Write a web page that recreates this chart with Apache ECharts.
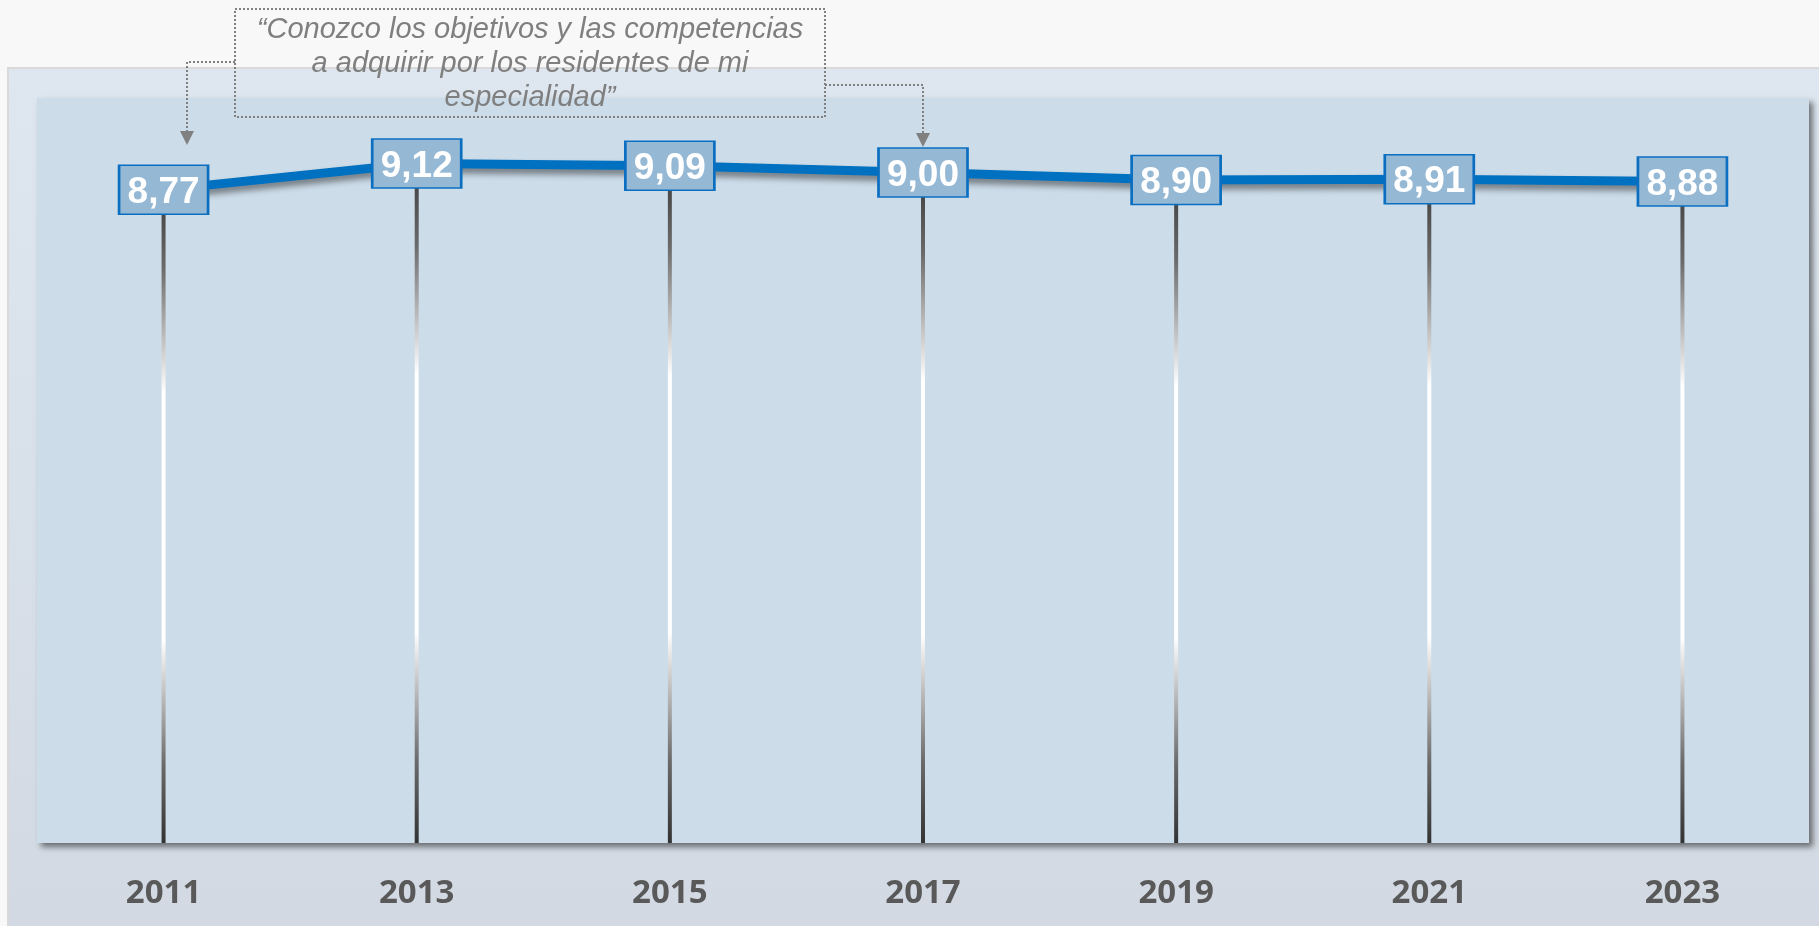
<!DOCTYPE html>
<html lang="es">
<head>
  <meta charset="UTF-8">
  <title>chart</title>
  <style>
    html, body { margin: 0; padding: 0; background: #f8f8f8; }
  </style>
</head>
<body>
<div id="main" style="width: 1819px;height:926px;"></div>
<script src="https://cdn.jsdelivr.net/npm/echarts@6/dist/echarts.min.js"></script>
<script>
// datos
var years = ['2011', '2013', '2015', '2017', '2019', '2021', '2023'];
var scores = [8.77, 9.12, 9.09, 9.00, 8.90, 8.91, 8.88];
var noteLines = [
  '\u201cConozco los objetivos y las competencias',
  'a adquirir por los residentes de mi',
  'especialidad\u201d'
];

var myChart = echarts.init(document.getElementById('main'));

var dotted = { stroke: '#808080', lineWidth: 2, lineDash: [2, 2], fill: null };

myChart.setOption({
  backgroundColor: '#f8f8f8',
  animation: false,
  grid: {
    left: 37, right: 10, top: 98, bottom: 83,
    show: true,
    backgroundColor: '#ccdce9',
    borderWidth: 0,
    shadowColor: 'rgba(0,0,0,0.5)',
    shadowBlur: 6,
    shadowOffsetX: 4,
    shadowOffsetY: 4
  },
  graphic: [
    {
      type: 'rect', z: -10, silent: true,
      shape: { x: 8, y: 68, width: 1820, height: 870 },
      style: {
        fill: new echarts.graphic.LinearGradient(0, 0, 0, 1, [
          { offset: 0, color: '#dee7f0' },
          { offset: 1, color: '#d2d9e2' }
        ]),
        stroke: '#d9d9d9', lineWidth: 2
      }
    },
    {
      type: 'rect', z: 100, silent: true,
      shape: { x: 235, y: 9, width: 590, height: 108 },
      style: dotted
    },
    {
      type: 'text', z: 100, silent: true,
      x: 530, y: 64,
      style: {
        text: noteLines.join('\n'),
        fill: '#7f7f7f',
        font: 'italic 29px "Liberation Sans", Arial, sans-serif',
        lineHeight: 34,
        align: 'center',
        verticalAlign: 'middle'
      }
    },
    {
      type: 'polyline', z: 100, silent: true,
      shape: { points: [[235, 62], [187, 62], [187, 133]] },
      style: dotted
    },
    {
      type: 'polygon', z: 100, silent: true,
      shape: { points: [[180, 131], [194, 131], [187, 145]] },
      style: { fill: '#808080' }
    },
    {
      type: 'polyline', z: 100, silent: true,
      shape: { points: [[825, 85], [923, 85], [923, 134]] },
      style: dotted
    },
    {
      type: 'polygon', z: 100, silent: true,
      shape: { points: [[916, 133], [930, 133], [923, 147]] },
      style: { fill: '#808080' }
    }
  ],
  xAxis: {
    type: 'category',
    data: years,
    boundaryGap: true,
    axisLine: { show: false },
    axisTick: { show: false },
    splitLine: { show: false },
    axisLabel: {
      margin: 34,
      color: '#595959',
      fontFamily: '"Open Sans", sans-serif',
      fontWeight: 'bold',
      fontSize: 33
    }
  },
  yAxis: {
    type: 'value',
    min: 0,
    max: 10,
    show: false
  },
  series: [
    {
      type: 'bar',
      data: scores,
      barWidth: 4,
      z: 1,
      itemStyle: {
        color: new echarts.graphic.LinearGradient(0, 0, 0, 1, [
          { offset: 0, color: '#3c3c3c' },
          { offset: 0.12, color: '#6a6a6a' },
          { offset: 0.31, color: '#ffffff' },
          { offset: 0.69, color: '#ffffff' },
          { offset: 0.88, color: '#6a6a6a' },
          { offset: 1, color: '#333333' }
        ])
      }
    },
    {
      type: 'line',
      data: scores,
      z: 3,
      symbol: 'none',
      lineStyle: {
        color: '#0070c0',
        width: 9,
        shadowColor: 'rgba(0,0,0,0.45)',
        shadowBlur: 6,
        shadowOffsetY: 5
      }
    },
    {
      type: 'scatter',
      data: scores,
      z: 5,
      symbol: 'rect',
      symbolSize: [89, 49],
      itemStyle: {
        color: '#95b8d5',
        borderColor: '#0b6fc1',
        borderWidth: 2,
        opacity: 1
      },
      label: {
        show: true,
        position: 'inside',
        offset: [0, 3],
        color: '#ffffff',
        fontFamily: '"Liberation Sans", Arial, sans-serif',
        fontWeight: 'bold',
        fontSize: 37,
        formatter: function (p) {
          return p.value.toFixed(2).replace('.', ',');
        }
      }
    }
  ]
});
</script>
</body>
</html>
